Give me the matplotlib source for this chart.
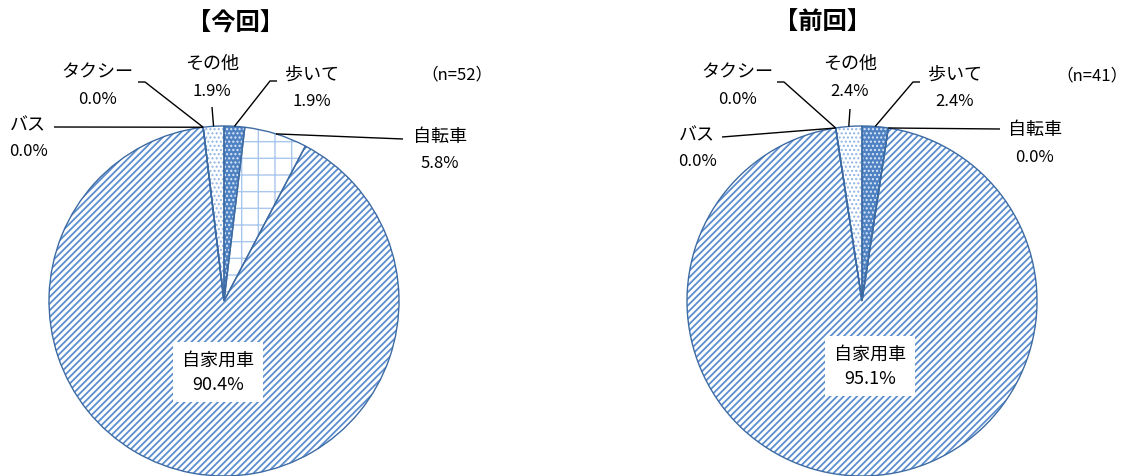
import matplotlib
matplotlib.use("Agg")
import matplotlib.pyplot as plt
import numpy as np

plt.rcParams['font.family'] = ['Noto Sans CJK JP', 'DejaVu Sans']
plt.rcParams['hatch.linewidth'] = 1.3

# ---- data -------------------------------------------------------------
categories = ["歩いて", "自転車", "自家用車", "バス", "タクシー", "その他"]
values_now = [1.9, 5.8, 90.4, 0.0, 0.0, 1.9]
values_prev = [2.4, 0.0, 95.1, 0.0, 0.0, 2.4]
titles = ["【今回】", "【前回】"]
n_counts = [52, 41]

# ---- styles per category ---------------------------------------------
BLUE = "#5B8DCF"
LIGHT = "#8FB4E3"
EDGE = "#3D6BA3"
styles = {
    "歩いて":   dict(face="#4F82C3", hatch="....", hcol="#DCE8F7", lw=1.0),
    "自転車":   dict(face="white", hatch="+",     hcol="#A9C6EC", lw=1.0),
    "自家用車": dict(face="white", hatch="/////", hcol=BLUE, lw=1.3),
    "バス":     dict(face="white", hatch="/////", hcol=BLUE, lw=1.3),
    "タクシー": dict(face="white", hatch="/////", hcol=BLUE, lw=1.3),
    "その他":   dict(face="white", hatch="....",  hcol=LIGHT, lw=1.0),
}

W, H = 1136, 477
fig = plt.figure(figsize=(W / 100, H / 100), dpi=100)
ax = fig.add_axes([0, 0, 1, 1])
ax.set_xlim(0, W)
ax.set_ylim(0, H)
ax.set_aspect("equal")
ax.axis("off")

R = 175
centers = [(224, 302), (862, 302)]

# label layout in pixel units (origin top-left): name position and leader path
layouts = [
    {
        "歩いて":   dict(pos=(312, 75), path=[(277, 82), (270, 82)]),
        "自転車":   dict(pos=(440, 137), path=[(403, 140)]),
        "バス":     dict(pos=(28, 125), path=[(54, 128)]),
        "タクシー": dict(pos=(97, 72), path=[(138, 83), (145, 83)]),
        "その他":   dict(pos=(212, 64), path=[(212, 108)]),
        "自家用車": dict(pos=(218, 373), path=None),
        "n": (457, 75),
        "title": (235, 23),
    },
    {
        "歩いて":   dict(pos=(955, 75), path=[(920, 83), (913, 83)]),
        "自転車":   dict(pos=(1035, 130), path=[(1000, 130)]),
        "バス":     dict(pos=(697, 135), path=[(722, 138)]),
        "タクシー": dict(pos=(737, 72), path=[(777, 83), (784, 83)]),
        "その他":   dict(pos=(850, 64), path=[(850, 110)]),
        "自家用車": dict(pos=(870, 367), path=None),
        "n": (1092, 76),
        "title": (822, 23),
    },
]

FS = 13
for vals, (cx, cyp), lay, title, n in zip([values_now, values_prev], centers,
                                          layouts, titles, n_counts):
    cy = H - cyp
    hatches = [styles[c]["hatch"] for c in categories]
    faces = [styles[c]["face"] for c in categories]
    wedges, _ = ax.pie(vals, startangle=90, counterclock=False,
                       center=(cx, cy), radius=R, colors=faces,
                       hatch=hatches, normalize=True, frame=True,
                       wedgeprops=dict(linewidth=0))
    for w, cat in zip(wedges, categories):
        w.set_edgecolor(styles[cat]["hcol"])
        w.set_linewidth(0)
        if hasattr(w, "set_hatch_linewidth"):
            w.set_hatch_linewidth(styles[cat]["lw"])
    # wedge outlines
    ax.pie(vals, startangle=90, counterclock=False, center=(cx, cy),
           radius=R, colors=["none"] * len(vals), normalize=True, frame=True,
           wedgeprops=dict(linewidth=1.0, edgecolor=EDGE, fill=False))

    for cat, v, w in zip(categories, vals, wedges):
        info = lay[cat]
        px, py = info["pos"]
        if cat == "自家用車":
            ax.text(px, H - py, f"{cat}\n{v:.1f}%", ha="center", va="center",
                    fontsize=FS, linespacing=1.45,
                    bbox=dict(boxstyle="square,pad=0.5", fc="white", ec="none"))
            continue
        ax.text(px, H - py, cat, ha="center", va="center", fontsize=FS)
        ax.text(px, H - py - 27, f"{v:.1f}%", ha="center", va="center",
                fontsize=FS - 1)
        mid = np.deg2rad((w.theta1 + w.theta2) / 2)
        rim = (cx + R * np.cos(mid), cy + R * np.sin(mid))
        pts = [(x, H - y) for x, y in info["path"]] + [rim]
        xs, ys = zip(*pts)
        ax.plot(xs, ys, color="black", lw=1.0, solid_capstyle="butt")

    nx, ny = lay["n"]
    ax.text(nx, H - ny, f"（n={n}）", ha="center", va="center", fontsize=FS - 1)
    tx, ty = lay["title"]
    ax.text(tx, H - ty, title, ha="center", va="center", fontsize=17.5,
            fontweight="bold")

ax.set_xlim(0, W)
ax.set_ylim(0, H)
fig.savefig("out.png", dpi=100)
